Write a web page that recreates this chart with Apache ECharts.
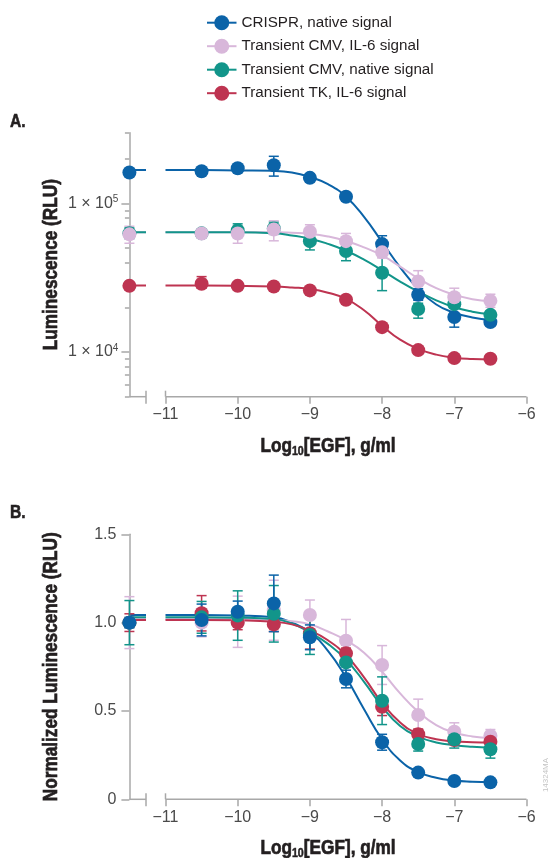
<!DOCTYPE html>
<html><head><meta charset="utf-8">
<script src="https://cdn.jsdelivr.net/npm/echarts@6/dist/echarts.min.js"></script>
<style>html,body{margin:0;padding:0;background:#fff}#c{width:552px;height:858px}</style>
</head><body><div id="c"></div>
<script>
// ---------- data ----------
const seriesNames = ['CRISPR, native signal', 'Transient CMV, IL-6 signal', 'Transient CMV, native signal', 'Transient TK, IL-6 signal'];
const pointX = [-11.5, -10.5, -10, -9.5, -9, -8.5, -8, -7.5, -7, -6.5];
const curveX = [-11, -10.5, -10, -9.5, -9.25, -9, -8.75, -8.5, -8.25, -8, -7.75, -7.5, -7.25, -7, -6.75, -6.5];
const stubX = [-11.5, -11.27];
const xTicks = [-11, -10, -9, -8, -7, -6];
const aMajorTicks = [10000, 100000];
const aMinorTicks = [5000, 6000, 7000, 8000, 9000, 20000, 30000, 40000, 50000, 60000, 70000, 80000, 90000, 200000, 300000];
const bTicks = [0, 0.5, 1.0, 1.5];

// Panel A (RLU)
const aCrispr   = [162000, 165000, 173000, 181000, 149000, 111000, 53300, 24300, 17200, 15900];
const aCrisprHi = [168000, 171000, 179000, 208000, 157000, 117000, 60700, 26700, 20200, 17300];
const aCrisprLo = [156000, 159000, 167000, 153000, 142000, 105000, 47300, 22300, 14700, 15000];
const aCmvIl6   = [62000, 62900, 62900, 66900, 64500, 55800, 46900, 29800, 23400, 22100];
const aCmvIl6Hi = [70300, 66500, 70300, 76500, 72000, 62900, 51000, 35300, 26900, 24500];
const aCmvIl6Lo = [54000, 59000, 54000, 56100, 59000, 49800, 43000, 25300, 20700, 20000];
const aCmvNat   = [63000, 63000, 66000, 68000, 55800, 47900, 34200, 19500, 21000, 17800];
const aCmvNatHi = [68500, 66000, 73000, 75000, 62000, 53000, 46200, 21300, 22400, 18800];
const aCmvNatLo = [58000, 60000, 60000, 62000, 48700, 41200, 25900, 16900, 19800, 16800];
const aTk       = [27900, 28800, 27900, 27600, 26000, 22500, 14700, 10300, 9100, 9000];
const aTkHi     = [28800, 32200, 28800, 28500, 27500, 23300, 15200, 10900, 9400, 9300];
const aTkLo     = [27000, 26900, 27000, 26700, 24800, 21700, 14200, 9700, 8800, 8700];
const aCrisprFit = [168000, 168000, 167000, 166000, 162000, 151000, 135000, 111000, 81300, 55000, 37200, 26600, 20900, 18400, 17100, 16400];
const aCmvIl6Fit = [64000, 64000, 64000, 64000, 63500, 62500, 60000, 56000, 50700, 44700, 37600, 31300, 26900, 24300, 22700, 22000];
const aCmvNatFit = [64000, 64000, 64000, 63000, 61000, 58000, 53500, 48100, 41900, 35500, 29800, 25500, 22300, 20000, 18700, 18000];
const aTkFit     = [28000, 28000, 27900, 27600, 27200, 26600, 25100, 22800, 19100, 15000, 12100, 10500, 9600, 9160, 8970, 8900];

// Panel B (normalized)
const bCrispr    = [1.0, 1.015, 1.062, 1.109, 0.917, 0.681, 0.323, 0.151, 0.104, 0.096];
const bCrisprErr = [0.03, 0.09, 0.06, 0.16, 0.07, 0.05, 0.045, 0.012, 0.01, 0.01];
const bCmvIl6    = [1.0, 1.0, 1.005, 1.07, 1.043, 0.898, 0.76, 0.477, 0.383, 0.36];
const bCmvIl6Err = [0.147, 0.08, 0.145, 0.17, 0.085, 0.12, 0.11, 0.09, 0.05, 0.035];
const bCmvNat    = [1.0, 1.03, 1.04, 1.05, 0.93, 0.775, 0.558, 0.313, 0.34, 0.283];
const bCmvNatErr = [0.125, 0.09, 0.14, 0.16, 0.11, 0.1, 0.135, 0.04, 0.05, 0.05];
const bTk        = [1.0, 1.053, 1.0, 0.99, 0.94, 0.826, 0.524, 0.368, 0.336, 0.326];
const bTkErr     = [0.05, 0.1, 0.04, 0.04, 0.09, 0.03, 0.05, 0.03, 0.02, 0.02];
const bCrisprFit = [1.043, 1.043, 1.04, 1.03, 1.0, 0.945, 0.84, 0.69, 0.51, 0.34, 0.22, 0.155, 0.122, 0.106, 0.099, 0.096];
const bCmvIl6Fit = [1.02, 1.02, 1.02, 1.015, 1.008, 0.99, 0.95, 0.9, 0.83, 0.722, 0.6, 0.496, 0.42, 0.378, 0.356, 0.347];
const bCmvNatFit = [1.03, 1.03, 1.028, 1.02, 0.995, 0.945, 0.88, 0.79, 0.665, 0.525, 0.415, 0.355, 0.322, 0.306, 0.297, 0.292];
const bTkFit     = [1.015, 1.015, 1.013, 1.005, 0.99, 0.955, 0.9, 0.815, 0.69, 0.545, 0.435, 0.37, 0.34, 0.328, 0.323, 0.321];

// ---------- styling ----------
const COLORS = ['#0b63a8', '#d8b7da', '#12958a', '#be3451'];
const FONT = "'Liberation Sans', Arial, sans-serif";
const AXIS = '#a8a8a8';
const TXT = '#231f20';
const TICKTXT = '#4a4a4a';
const NARROW = 0.82;
const A_MIN = 5000, A_MAX = 300000;

const aPts = [aCrispr, aCmvIl6, aCmvNat, aTk];
const aHi = [aCrisprHi, aCmvIl6Hi, aCmvNatHi, aTkHi];
const aLo = [aCrisprLo, aCmvIl6Lo, aCmvNatLo, aTkLo];
const aFit = [aCrisprFit, aCmvIl6Fit, aCmvNatFit, aTkFit];
const bPts = [bCrispr, bCmvIl6, bCmvNat, bTk];
const bErr = [bCrisprErr, bCmvIl6Err, bCmvNatErr, bTkErr];
const bFit = [bCrisprFit, bCmvIl6Fit, bCmvNatFit, bTkFit];

function errRender(params, api) {
  const x = api.value(0), lo = api.value(1), hi = api.value(2);
  const p1 = api.coord([x, hi]), p2 = api.coord([x, lo]);
  const w = 5;
  const style = { stroke: api.visual('color'), lineWidth: 1.5 };
  return { type: 'group', children: [
    { type: 'line', shape: { x1: p1[0], y1: p1[1], x2: p2[0], y2: p2[1] }, style },
    { type: 'line', shape: { x1: p1[0] - w, y1: p1[1], x2: p1[0] + w, y2: p1[1] }, style },
    { type: 'line', shape: { x1: p2[0] - w, y1: p2[1], x2: p2[0] + w, y2: p2[1] }, style }
  ]};
}
function axisDecor(yMin) {
  return function (params, api) {
    const a = api.coord([stubX[0], yMin]), b = api.coord([stubX[1], yMin]);
    const c = api.coord([xTicks[0], yMin]), d = api.coord([xTicks[xTicks.length - 1], yMin]);
    const st = { stroke: AXIS, lineWidth: 1.5 };
    return { type: 'group', children: [
      { type: 'line', shape: { x1: a[0], y1: a[1], x2: b[0], y2: b[1] }, style: st },
      { type: 'line', shape: { x1: c[0], y1: c[1], x2: d[0], y2: d[1] }, style: st },
      { type: 'line', shape: { x1: b[0], y1: b[1] - 6, x2: b[0], y2: b[1] + 7 }, style: st },
      { type: 'line', shape: { x1: c[0], y1: c[1] - 6, x2: c[0], y2: c[1] }, style: st }
    ]};
  };
}

const series = [];
// curves (legend icons come from the first four)
[0, 1].forEach(function (panel) {
  const fits = panel === 0 ? aFit : bFit;
  for (let i = 0; i < 4; i++) {
    series.push({
      name: seriesNames[i], type: 'line', xAxisIndex: panel, yAxisIndex: panel === 0 ? 0 : 2,
      data: curveX.map((x, k) => [x, fits[i][k]]),
      smooth: 0.5, symbol: 'circle', symbolSize: 14, showSymbol: false,
      lineStyle: { width: 2, color: COLORS[i] }, itemStyle: { color: COLORS[i] },
      clip: false, silent: true, z: 2
    });
    series.push({
      name: seriesNames[i], type: 'line', xAxisIndex: panel, yAxisIndex: panel === 0 ? 0 : 2,
      data: stubX.map(x => [x, fits[i][0]]), symbol: 'none',
      lineStyle: { width: 2, color: COLORS[i] }, itemStyle: { color: COLORS[i] },
      clip: false, silent: true, z: 2
    });
  }
});
// points + error bars, panel A draw order
[0, 2, 1, 3].forEach(function (i) {
  series.push({
    name: seriesNames[i], type: 'custom', xAxisIndex: 0, yAxisIndex: 0,
    renderItem: errRender, itemStyle: { color: COLORS[i] },
    encode: { x: 0, y: [1, 2] }, clip: false, silent: true, z: 3,
    data: pointX.map((x, k) => [x, aLo[i][k], aHi[i][k]])
  });
  series.push({
    name: seriesNames[i], type: 'scatter', xAxisIndex: 0, yAxisIndex: 0,
    data: pointX.map((x, k) => [x, aPts[i][k]]), symbol: 'circle', symbolSize: 14,
    itemStyle: { color: COLORS[i], opacity: 1 }, clip: false, silent: true, z: 3
  });
});
// panel B draw order
[1, 3, 2, 0].forEach(function (i) {
  series.push({
    name: seriesNames[i], type: 'custom', xAxisIndex: 1, yAxisIndex: 2,
    renderItem: errRender, itemStyle: { color: COLORS[i] },
    encode: { x: 0, y: [1, 2] }, clip: false, silent: true, z: 3,
    data: pointX.map((x, k) => [x, bPts[i][k] - bErr[i][k], bPts[i][k] + bErr[i][k]])
  });
  series.push({
    name: seriesNames[i], type: 'scatter', xAxisIndex: 1, yAxisIndex: 2,
    data: pointX.map((x, k) => [x, bPts[i][k]]), symbol: 'circle', symbolSize: 14,
    itemStyle: { color: COLORS[i], opacity: 1 }, clip: false, silent: true, z: 3
  });
});
// axis line segments with break
series.push({ type: 'custom', xAxisIndex: 0, yAxisIndex: 0, renderItem: axisDecor(A_MIN), data: [[stubX[0], A_MIN]], clip: false, silent: true, z: 1 });
series.push({ type: 'custom', xAxisIndex: 1, yAxisIndex: 2, renderItem: axisDecor(bTicks[0]), data: [[stubX[0], bTicks[0]]], clip: false, silent: true, z: 1 });

function xAxisOpt(gi) {
  return {
    type: 'value', gridIndex: gi, min: -11.5, max: -6,
    axisLine: { show: false },
    axisTick: { show: true, customValues: xTicks, length: 7, lineStyle: { color: AXIS, width: 1.5 } },
    axisLabel: { customValues: xTicks, margin: 10, fontFamily: FONT, fontSize: 16, color: TICKTXT,
      formatter: v => (v < 0 ? '\u2212' : '') + Math.abs(v) },
    splitLine: { show: false }
  };
}
const titleRich = {
  a: { fontFamily: FONT, fontSize: 21, fontWeight: 'bold', fill: TXT, stroke: TXT, lineWidth: 0.7, lineHeight: 24 },
  s: { fontFamily: FONT, fontSize: 13, fontWeight: 'bold', fill: TXT, stroke: TXT, lineWidth: 0.5, lineHeight: 24, verticalAlign: 'bottom', padding: [8, 0, 0, 0] }
};
function xTitle(y) {
  return { type: 'text', x: 328, y: y, scaleX: NARROW,
    style: { text: '{a|Log}{s|10}{a|[EGF], g/ml}', rich: titleRich, align: 'center', verticalAlign: 'middle', fill: TXT } };
}
function yTitle(y, text) {
  return { type: 'text', x: 51, y: y, rotation: Math.PI / 2, scaleX: NARROW,
    style: { text: text, font: 'bold 21px ' + FONT, fill: TXT, stroke: TXT, lineWidth: 0.7, align: 'center', verticalAlign: 'middle' } };
}

const option = {
  animation: false,
  backgroundColor: '#fff',
  legend: {
    data: seriesNames, orient: 'vertical', left: 201, top: 10.2,
    itemWidth: 29.5, itemHeight: 18.75, itemGap: 8.5, selectedMode: false,
    textStyle: { fontFamily: FONT, fontSize: 15.2, color: TXT }
  },
  grid: [
    { left: 129.4, right: 25.5, top: 132.7, height: 264 },
    { left: 129.4, right: 25.5, top: 534.3, height: 265 }
  ],
  xAxis: [xAxisOpt(0), xAxisOpt(1)],
  yAxis: [
    { type: 'log', gridIndex: 0, min: A_MIN, max: A_MAX, position: 'left',
      axisLine: { show: true, lineStyle: { color: AXIS, width: 1.5 } },
      axisTick: { show: true, customValues: aMajorTicks, length: 8, lineStyle: { color: AXIS, width: 1.5 } },
      axisLabel: { customValues: aMajorTicks, margin: 11,
        formatter: v => '{a|1 \u00d7 10}{s|' + Math.round(Math.log10(v)) + '}',
        rich: { a: { fontFamily: FONT, fontSize: 16, color: TICKTXT, lineHeight: 18 },
                s: { fontFamily: FONT, fontSize: 10, color: TICKTXT, lineHeight: 18, verticalAlign: 'top' } } },
      splitLine: { show: false }, minorTick: { show: false } },
    { type: 'log', gridIndex: 0, min: A_MIN, max: A_MAX, position: 'left', offset: 0,
      axisLine: { show: false },
      axisTick: { show: true, customValues: aMinorTicks, length: 4.5, lineStyle: { color: AXIS, width: 1.5 } },
      axisLabel: { show: false }, splitLine: { show: false } },
    { type: 'value', gridIndex: 1, min: 0, max: 1.5, interval: 0.5, position: 'left',
      axisLine: { show: true, lineStyle: { color: AXIS, width: 1.5 } },
      axisTick: { show: true, customValues: bTicks, length: 8, lineStyle: { color: AXIS, width: 1.5 } },
      axisLabel: { customValues: bTicks, margin: 13, fontFamily: FONT, fontSize: 16, color: TICKTXT,
        formatter: v => (v === 0 ? '0' : v.toFixed(1)) },
      splitLine: { show: false } }
  ],
  graphic: [
    { type: 'text', x: 10, y: 112, scaleX: NARROW, style: { text: 'A.', font: 'bold 19px ' + FONT, fill: TXT, stroke: TXT, lineWidth: 0.6 } },
    { type: 'text', x: 10, y: 503, scaleX: NARROW, style: { text: 'B.', font: 'bold 19px ' + FONT, fill: TXT, stroke: TXT, lineWidth: 0.6 } },
    yTitle(264.7, 'Luminescence (RLU)'),
    yTitle(666.8, 'Normalized Luminescence (RLU)'),
    xTitle(446),
    xTitle(848),
    { type: 'text', x: 546, y: 775, rotation: Math.PI / 2,
      style: { text: '14324MA', font: '8px ' + FONT, fill: '#c4c4c4', align: 'center', verticalAlign: 'middle' } }
  ],
  series: series
};

const chart = echarts.init(document.getElementById('c'), null, { renderer: 'canvas' });
chart.setOption(option);
</script>
</body></html>
